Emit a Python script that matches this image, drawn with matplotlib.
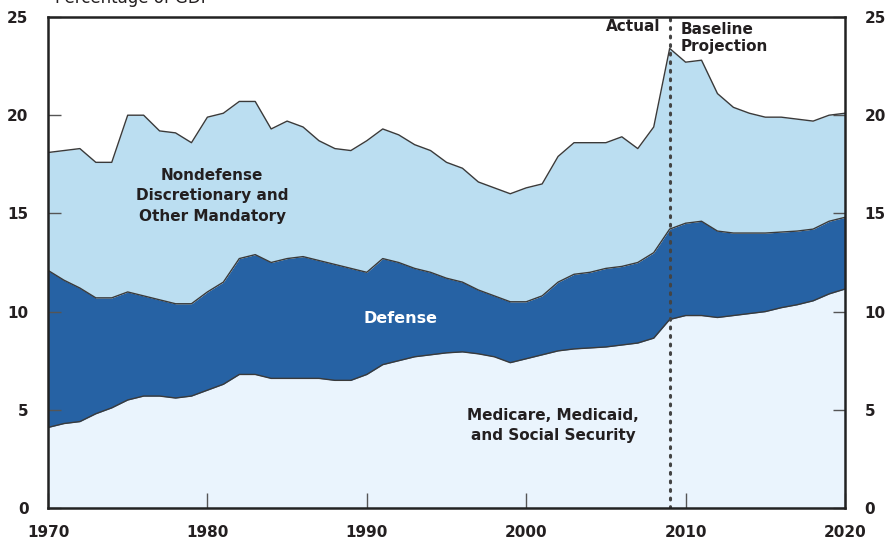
import numpy as np
import matplotlib.pyplot as plt

# Federal outlays, percentage of GDP
years = np.arange(1970, 2021)

medicare = [4.1, 4.3, 4.4, 4.8, 5.1, 5.5, 5.7, 5.7, 5.6, 5.7,
            6.0, 6.3, 6.8, 6.8, 6.6, 6.6, 6.6, 6.6, 6.5, 6.5,
            6.8, 7.3, 7.5, 7.7, 7.8, 7.9, 7.95, 7.85, 7.7, 7.4,
            7.6, 7.8, 8.0, 8.1, 8.15, 8.2, 8.3, 8.4, 8.65, 9.6,
            9.8, 9.8, 9.7, 9.8, 9.9, 10.0, 10.2, 10.35, 10.55, 10.9,
            11.15]

# cumulative top of defense layer
defense_top = [12.1, 11.6, 11.2, 10.7, 10.7, 11.0, 10.8, 10.6, 10.4, 10.4,
               11.0, 11.5, 12.7, 12.9, 12.5, 12.7, 12.8, 12.6, 12.4, 12.2,
               12.0, 12.7, 12.5, 12.2, 12.0, 11.7, 11.5, 11.1, 10.8, 10.5,
               10.5, 10.8, 11.5, 11.9, 12.0, 12.2, 12.3, 12.5, 13.0, 14.2,
               14.5, 14.6, 14.1, 14.0, 14.0, 14.0, 14.05, 14.1, 14.2, 14.6,
               14.8]

# total outlays (top of nondefense layer)
total = [18.1, 18.2, 18.3, 17.6, 17.6, 20.0, 20.0, 19.2, 19.1, 18.6,
         19.9, 20.1, 20.7, 20.7, 19.3, 19.7, 19.4, 18.7, 18.3, 18.2,
         18.7, 19.3, 19.0, 18.5, 18.2, 17.6, 17.3, 16.6, 16.3, 16.0,
         16.3, 16.5, 17.9, 18.6, 18.6, 18.6, 18.9, 18.3, 19.4, 23.4,
         22.7, 22.8, 21.1, 20.4, 20.1, 19.9, 19.9, 19.8, 19.7, 20.0,
         20.1]

xticks = [1970, 1980, 1990, 2000, 2010, 2020]
yticks = [0, 5, 10, 15, 20, 25]

c_pale = '#EAF4FD'
c_dark = '#2662A4'
c_light = '#BBDEF1'
c_edge = '#3a3a3a'
c_text = '#231F20'
font = ['Liberation Sans Narrow', 'DejaVu Sans']

fig = plt.figure(figsize=(8.85, 5.48), dpi=100)
ax = fig.add_axes([48 / 885, 40 / 548, 797 / 885, 491 / 548])

ax.fill_between(years, 0, medicare, color=c_pale, lw=0)
ax.fill_between(years, medicare, defense_top, color=c_dark, lw=0)
ax.fill_between(years, defense_top, total, color=c_light, lw=0)
for series in (medicare, defense_top, total):
    ax.plot(years, series, color=c_edge, lw=1.0)

# actual / projection divider
ax.axvline(2009, color='#444444', lw=2.2, ls=(0, (0.6, 2.2)), dash_capstyle='round')

ax.set_xlim(1970, 2020)
ax.set_ylim(0, 25)
ax.set_xticks(xticks)
ax.set_yticks(yticks)
for s in ax.spines.values():
    s.set_linewidth(1.8)
    s.set_color('#222222')

ax.tick_params(axis='y', direction='in', length=9, width=1, color='#555555',
               left=True, right=True, labelleft=True, labelright=True, pad=14)
ax.tick_params(axis='x', direction='in', length=11, width=1, color='#555555', pad=12)
for lab in ax.get_xticklabels() + ax.get_yticklabels():
    lab.set_family(font)
    lab.set_fontweight('bold')
    lab.set_fontsize(11)
    lab.set_color(c_text)

tkw = dict(family=font, fontweight='bold', fontsize=11, color=c_text)
ax.text(1980.3, 15.9, 'Nondefense\nDiscretionary and\nOther Mandatory',
        ha='center', va='center', linespacing=1.45, **tkw)
ax.text(1992.1, 9.65, 'Defense', ha='center', va='center',
        family=font, fontweight='bold', fontsize=11.5, color='white')
ax.text(2001.7, 4.2, 'Medicare, Medicaid,\nand Social Security',
        ha='center', va='center', linespacing=1.45, **tkw)
ax.text(2008.4, 24.5, 'Actual', ha='right', va='center', **tkw)
ax.text(2009.7, 24.75, 'Baseline\nProjection', ha='left', va='top',
        linespacing=1.2, **tkw)

fig.text(55 / 885, 0.9945, 'Percentage of GDP', ha='left', va='baseline',
         family=font, fontsize=12, color=c_text)

fig.savefig('out.png', dpi=100)
